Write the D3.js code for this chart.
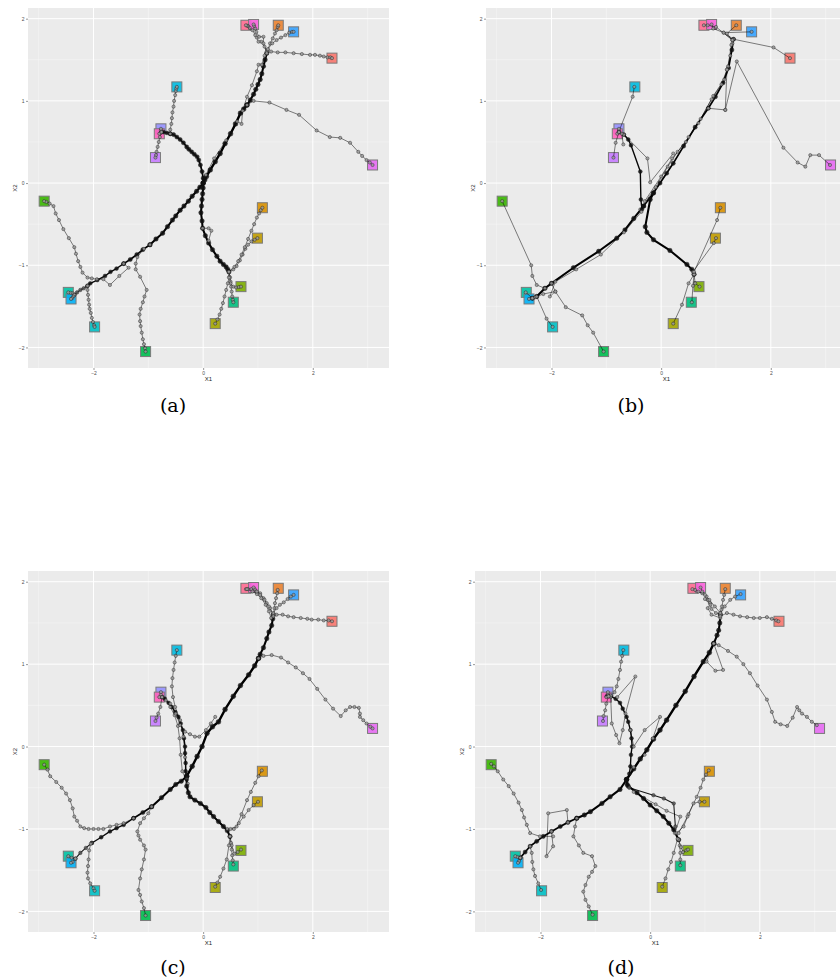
<!DOCTYPE html>
<html>
<head>
<meta charset="utf-8">
<script src="https://cdn.jsdelivr.net/npm/d3@7"></script>
<style>body{margin:0;background:#fff}</style>
</head>
<body>
<script>
// terminal cell types (squares), same positions in the 4 panels
var leafCat = ["t1","t2","t3","t4","t5","t6","t7","t8","t9","t10","t11","t12","t13","t14","t15","t16","t17","t20","t18","t19"];
var leafX = [2.35, 1.37, 1.08, 0.99, 0.22, 0.69, -2.90, -1.05, 0.55, -2.46, -1.98, -0.48, -2.41, 1.65, -0.77, -0.87, 3.09, 0.78, 0.92, -0.80];
var leafY = [1.52, 1.92, -0.30, -0.67, -1.71, -1.26, -0.22, -2.05, -1.45, -1.33, -1.75, 1.17, -1.41, 1.84, 0.66, 0.31, 0.22, 1.92, 1.93, 0.60];
var hue20 = ["#F8766D","#EA8331","#D89000","#C09B00","#A3A500","#7CAE00","#39B600","#00BB4E","#00BF7D","#00C1A3",
             "#00BFC4","#00BAE0","#00B0F6","#35A2FF","#9590FF","#C77CFF","#E76BF3","#FA62DB","#FF62BC","#FF6C91"];
var catOrder = ["t1","t2","t3","t4","t5","t6","t7","t8","t9","t10","t11","t12","t13","t14","t15","t16","t17","t18","t19","t20"];

var xTicks = [-2, 0, 2];
var yTicks = [-2, -1, 0, 1, 2];
var xMinor = [-3, -1, 1, 3];
var yMinor = [-1.5, -0.5, 0.5, 1.5];
var xDomain = [-3.195, 3.39];
var yDomain = [-2.25, 2.13];

// branches of the inferred trajectories; n = number of trajectories running along the branch
var branchesA = [
 {n:6,p:[[0,0],[0.03,0.04],[0.06,0.08],[0.13,0.16],[0.22,0.26],[0.31,0.36],[0.4,0.48],[0.5,0.6],[0.59,0.72],[0.68,0.85],[0.74,0.9],[0.8,0.95]]},
 {n:5,p:[[0.8,0.95],[0.86,1.01],[0.92,1.08],[0.96,1.14],[1.0,1.2],[1.04,1.26],[1.07,1.33],[1.1,1.42],[1.13,1.5],[1.16,1.58]]},
 {n:1,p:[[0.05,0.1],[0.2,0.3],[0.42,0.52],[0.62,0.75],[0.7,0.72],[0.72,0.88],[0.8,1.05],[0.89,1.19],[0.98,1.36],[1.01,1.44],[1.07,1.44],[1.12,1.55]]},
 {n:1,p:[[1.16,1.58],[1.12,1.66],[1.06,1.72],[1.01,1.72],[0.98,1.77],[0.95,1.8],[0.9,1.86],[0.85,1.89],[0.82,1.91],[0.8,1.915],[0.78,1.92]]},
 {n:1,p:[[1.16,1.6],[1.1,1.7],[1.1,1.78],[1.02,1.78],[0.97,1.84],[0.95,1.88],[0.93,1.91],[0.92,1.93]]},
 {n:1,p:[[1.18,1.62],[1.22,1.7],[1.27,1.76],[1.31,1.82],[1.34,1.86],[1.36,1.9],[1.37,1.92]]},
 {n:1,p:[[1.18,1.63],[1.26,1.7],[1.34,1.74],[1.42,1.77],[1.5,1.8],[1.57,1.83],[1.62,1.84],[1.65,1.84]]},
 {n:1,p:[[1.16,1.58],[1.24,1.6],[1.36,1.59],[1.5,1.59],[1.65,1.58],[1.8,1.57],[1.95,1.56],[2.04,1.56],[2.13,1.55],[2.2,1.54],[2.27,1.53],[2.32,1.53],[2.35,1.52]]},
 {n:1,p:[[0.8,0.95],[0.92,1.0],[1.21,0.98],[1.52,0.89],[1.75,0.83],[2.07,0.64],[2.31,0.56],[2.5,0.55],[2.68,0.49],[2.83,0.38],[2.9,0.33],[2.98,0.28],[3.04,0.25],[3.09,0.22]]},
 {n:5,p:[[0,0],[-0.06,-0.05],[-0.12,-0.1],[-0.2,-0.16],[-0.27,-0.22],[-0.35,-0.28],[-0.42,-0.33],[-0.5,-0.4],[-0.56,-0.45],[-0.65,-0.53],[-0.74,-0.61],[-0.86,-0.68],[-0.97,-0.75]]},
 {n:4,p:[[-0.97,-0.75],[-1.1,-0.81],[-1.21,-0.87],[-1.33,-0.93],[-1.45,-0.98]]},
 {n:3,p:[[-1.45,-0.98],[-1.58,-1.04],[-1.69,-1.08],[-1.79,-1.13],[-1.93,-1.18],[-2.06,-1.22],[-2.11,-1.25]]},
 {n:2,p:[[-2.11,-1.25],[-2.18,-1.28],[-2.24,-1.3],[-2.3,-1.33],[-2.35,-1.36]]},
 {n:1,p:[[-2.35,-1.36],[-2.38,-1.34],[-2.42,-1.335],[-2.46,-1.33]]},
 {n:1,p:[[-2.35,-1.36],[-2.37,-1.38],[-2.39,-1.4],[-2.41,-1.41]]},
 {n:1,p:[[-2.11,-1.25],[-2.11,-1.3],[-2.1,-1.36],[-2.09,-1.42],[-2.08,-1.48],[-2.07,-1.53],[-2.05,-1.58],[-2.03,-1.64],[-2.01,-1.69],[-1.99,-1.73],[-1.98,-1.75]]},
 {n:1,p:[[-1.45,-0.98],[-1.36,-1.03],[-1.53,-1.13],[-1.7,-1.24],[-1.82,-1.17],[-1.94,-1.17],[-2.03,-1.16],[-2.11,-1.15],[-2.2,-1.09],[-2.24,-1.02],[-2.28,-0.95],[-2.32,-0.86],[-2.35,-0.78],[-2.45,-0.67],[-2.55,-0.56],[-2.63,-0.45],[-2.69,-0.37],[-2.73,-0.28],[-2.8,-0.25],[-2.86,-0.23],[-2.9,-0.22]]},
 {n:1,p:[[-0.97,-0.75],[-1.08,-0.8],[-1.2,-0.9],[-1.23,-0.98],[-1.23,-1.05],[-1.15,-1.14],[-1.03,-1.3],[-1.07,-1.38],[-1.1,-1.45],[-1.14,-1.53],[-1.16,-1.6],[-1.15,-1.68],[-1.14,-1.74],[-1.12,-1.82],[-1.1,-1.9],[-1.08,-1.96],[-1.06,-2.01],[-1.05,-2.05]]},
 {n:4,p:[[0,0],[0.0,0.06],[-0.02,0.14],[-0.05,0.22],[-0.08,0.28],[-0.11,0.32],[-0.16,0.35],[-0.21,0.38],[-0.26,0.41],[-0.3,0.44],[-0.36,0.49],[-0.42,0.53],[-0.48,0.56],[-0.54,0.59],[-0.6,0.6]]},
 {n:3,p:[[-0.6,0.6],[-0.66,0.61],[-0.72,0.62],[-0.76,0.62]]},
 {n:1,p:[[-0.76,0.62],[-0.77,0.64],[-0.77,0.66]]},
 {n:1,p:[[-0.76,0.62],[-0.78,0.61],[-0.8,0.6]]},
 {n:1,p:[[-0.76,0.62],[-0.79,0.56],[-0.81,0.5],[-0.83,0.44],[-0.85,0.38],[-0.86,0.34],[-0.87,0.31]]},
 {n:1,p:[[-0.6,0.6],[-0.6,0.65],[-0.58,0.72],[-0.57,0.79],[-0.56,0.86],[-0.54,0.93],[-0.53,1.0],[-0.51,1.07],[-0.5,1.12],[-0.49,1.15],[-0.48,1.17]]},
 {n:5,p:[[0,0],[0.0,-0.06],[-0.01,-0.13],[-0.02,-0.2],[-0.03,-0.28],[-0.04,-0.36],[-0.02,-0.46],[-0.01,-0.55],[0.04,-0.64],[0.1,-0.73],[0.17,-0.81],[0.25,-0.89],[0.31,-0.95],[0.37,-0.99],[0.42,-1.02],[0.45,-1.05],[0.47,-1.08]]},
 {n:1,p:[[-0.01,-0.55],[0.1,-0.55],[0.15,-0.58],[0.1,-0.7]]},
 {n:1,p:[[0.47,-1.08],[0.48,-1.14],[0.5,-1.2],[0.51,-1.26],[0.52,-1.32],[0.53,-1.38],[0.54,-1.42],[0.55,-1.45]]},
 {n:1,p:[[0.47,-1.08],[0.49,-1.15],[0.5,-1.22],[0.55,-1.26],[0.6,-1.27],[0.65,-1.265],[0.69,-1.26]]},
 {n:1,p:[[0.47,-1.08],[0.47,-1.15],[0.45,-1.22],[0.42,-1.3],[0.39,-1.38],[0.36,-1.46],[0.33,-1.53],[0.3,-1.6],[0.26,-1.66],[0.22,-1.71]]},
 {n:1,p:[[0.47,-1.08],[0.55,-1.05],[0.61,-1.01],[0.67,-0.94],[0.72,-0.87],[0.77,-0.8],[0.82,-0.75],[0.88,-0.71],[0.94,-0.69],[0.99,-0.67]]},
 {n:1,p:[[0.47,-1.08],[0.57,-1.02],[0.64,-0.95],[0.7,-0.87],[0.76,-0.78],[0.82,-0.68],[0.88,-0.58],[0.93,-0.5],[0.98,-0.42],[1.02,-0.37],[1.05,-0.33],[1.08,-0.3]]}
];

var branchesB = [
 {n:4,p:[[-0.32,-0.28],[-0.14,-0.12],[-0.02,0.0],[0.1,0.12],[0.22,0.24],[0.41,0.45],[0.62,0.68],[0.86,0.91],[0.99,1.05],[1.13,1.22],[1.23,1.4],[1.29,1.62],[1.32,1.75]]},
 {n:1,p:[[-0.38,-0.32],[-0.1,-0.05],[0.12,0.2],[0.3,0.38],[0.5,0.56],[0.72,0.78],[0.92,1.02],[1.1,1.2],[1.2,1.38],[1.26,1.55],[1.3,1.7]]},
 {n:1,p:[[-0.3,-0.22],[0.0,0.08],[0.2,0.3],[0.45,0.5],[0.68,0.73],[0.95,1.06],[1.15,1.26],[1.22,1.42],[1.28,1.68]]},
 {n:1,p:[[1.32,1.75],[2.05,1.65],[2.35,1.52]]},
 {n:1,p:[[1.32,1.75],[1.14,1.83],[1.65,1.84]]},
 {n:1,p:[[1.3,1.74],[1.2,1.82],[1.37,1.92]]},
 {n:1,p:[[1.3,1.74],[1.14,1.83],[0.95,1.88],[0.92,1.93]]},
 {n:1,p:[[1.3,1.74],[1.0,1.9],[0.85,1.92],[0.78,1.92]]},
 {n:1,p:[[0.86,0.91],[1.17,0.89],[1.38,1.48],[2.23,0.43],[2.49,0.25],[2.63,0.2],[2.72,0.34],[2.88,0.34],[3.08,0.22]]},
 {n:1,p:[[1.17,0.89],[1.2,1.38]]},
 {n:3,p:[[-0.35,-0.32],[-0.37,-0.2],[-0.38,0.14],[-0.55,0.46],[-0.6,0.53],[-0.68,0.59],[-0.77,0.62]]},
 {n:1,p:[[0.22,0.36],[-0.2,0.01],[-0.25,0.3],[-0.68,0.59]]},
 {n:1,p:[[-0.72,0.6],[-0.69,0.47]]},
 {n:1,p:[[-0.77,0.63],[-0.52,1.05],[-0.49,1.17]]},
 {n:1,p:[[-0.77,0.62],[-0.77,0.66]]},
 {n:1,p:[[-0.77,0.62],[-0.8,0.6]]},
 {n:1,p:[[-0.77,0.62],[-0.83,0.49],[-0.87,0.31]]},
 {n:5,p:[[-0.14,-0.12],[-0.2,-0.2],[-0.29,-0.53],[-0.26,-0.6],[-0.14,-0.69],[0.16,-0.82],[0.47,-0.99],[0.56,-1.05],[0.6,-1.11]]},
 {n:1,p:[[0.6,-1.11],[0.62,-1.22],[0.7,-1.26]]},
 {n:1,p:[[0.6,-1.11],[0.58,-1.25],[0.56,-1.45]]},
 {n:1,p:[[0.6,-1.11],[0.5,-1.22],[0.38,-1.48],[0.22,-1.71]]},
 {n:1,p:[[0.58,-1.08],[0.96,-0.73],[1.0,-0.67]]},
 {n:1,p:[[0.6,-1.08],[1.02,-0.45],[1.08,-0.3]]},
 {n:5,p:[[-0.32,-0.28],[-0.5,-0.43],[-0.66,-0.57],[-0.81,-0.67],[-1.14,-0.83],[-1.6,-1.03],[-2.0,-1.22],[-2.12,-1.28],[-2.27,-1.38],[-2.35,-1.4]]},
 {n:1,p:[[-0.36,-0.35],[-0.68,-0.6],[-1.1,-0.87],[-1.55,-1.05],[-1.93,-1.2],[-2.03,-1.38],[-1.93,-1.32],[-2.15,-1.35],[-2.3,-1.39]]},
 {n:1,p:[[-2.35,-1.4],[-2.47,-1.33]]},
 {n:1,p:[[-2.35,-1.4],[-2.41,-1.41]]},
 {n:1,p:[[-2.27,-1.38],[-2.09,-1.65],[-1.98,-1.75]]},
 {n:1,p:[[-2.12,-1.28],[-2.27,-1.24],[-2.35,-1.13],[-2.37,-1.0],[-2.9,-0.22]]},
 {n:1,p:[[-2.0,-1.22],[-1.93,-1.32],[-1.74,-1.51],[-1.44,-1.61],[-1.34,-1.73],[-1.24,-1.82],[-1.05,-2.05]]}
];

var branchesC = [
 {n:6,p:[[-0.3,-0.36],[-0.2,-0.24],[-0.11,-0.12],[-0.02,0.0],[0.07,0.16],[0.17,0.24],[0.28,0.3],[0.4,0.45],[0.55,0.61],[0.68,0.74],[0.83,0.87],[0.94,0.98],[1.01,1.07]]},
 {n:5,p:[[1.01,1.07],[1.04,1.12],[1.1,1.2],[1.16,1.31],[1.2,1.39],[1.25,1.47],[1.27,1.55],[1.28,1.6]]},
 {n:1,p:[[1.28,1.6],[1.22,1.68],[1.16,1.74],[1.1,1.8],[1.04,1.86],[0.96,1.89],[0.88,1.91],[0.82,1.91],[0.78,1.91]]},
 {n:1,p:[[1.24,1.56],[1.2,1.64],[1.14,1.72],[1.06,1.8],[0.98,1.85],[0.9,1.88],[0.8,1.91]]},
 {n:1,p:[[1.28,1.6],[1.2,1.7],[1.12,1.78],[1.04,1.84],[0.98,1.88],[0.94,1.91],[0.92,1.93]]},
 {n:1,p:[[1.28,1.6],[1.3,1.68],[1.31,1.74],[1.33,1.8],[1.35,1.86],[1.36,1.9]]},
 {n:1,p:[[1.28,1.62],[1.34,1.68],[1.4,1.72],[1.47,1.75],[1.54,1.79],[1.6,1.82],[1.65,1.84]]},
 {n:1,p:[[1.28,1.58],[1.34,1.6],[1.45,1.6],[1.55,1.58],[1.65,1.57],[1.78,1.56],[1.9,1.55],[1.98,1.54],[2.1,1.54],[2.2,1.53],[2.29,1.53],[2.35,1.52]]},
 {n:1,p:[[1.01,1.07],[1.1,1.1],[1.25,1.11],[1.42,1.08],[1.55,1.02],[1.69,0.96],[1.82,0.89],[1.94,0.82],[2.08,0.7],[2.23,0.57],[2.37,0.46],[2.51,0.37],[2.6,0.44],[2.68,0.48],[2.76,0.48],[2.84,0.47],[2.86,0.4],[2.86,0.36],[2.92,0.32],[2.98,0.28],[3.05,0.24],[3.09,0.22]]},
 {n:5,p:[[-0.3,-0.36],[-0.4,-0.42],[-0.5,-0.46],[-0.6,-0.52],[-0.76,-0.62],[-0.94,-0.73]]},
 {n:4,p:[[-0.94,-0.73],[-1.1,-0.8],[-1.27,-0.87]]},
 {n:3,p:[[-1.27,-0.87],[-1.45,-0.95],[-1.58,-0.99],[-1.7,-1.03],[-1.86,-1.1],[-2.03,-1.17]]},
 {n:2,p:[[-2.03,-1.17],[-2.14,-1.23],[-2.24,-1.29],[-2.33,-1.36]]},
 {n:1,p:[[-2.33,-1.36],[-2.4,-1.35],[-2.46,-1.33]]},
 {n:1,p:[[-2.33,-1.36],[-2.38,-1.4],[-2.41,-1.41]]},
 {n:1,p:[[-2.05,-1.18],[-2.08,-1.26],[-2.09,-1.37],[-2.1,-1.45],[-2.11,-1.53],[-2.1,-1.6],[-2.06,-1.66],[-2.0,-1.72],[-1.98,-1.75]]},
 {n:1,p:[[-1.27,-0.87],[-1.45,-0.93],[-1.58,-0.95],[-1.7,-0.97],[-1.82,-1.0],[-1.91,-1.0],[-2.0,-1.0],[-2.09,-1.0],[-2.17,-0.99],[-2.24,-0.97],[-2.3,-0.9],[-2.35,-0.85],[-2.38,-0.75],[-2.43,-0.65],[-2.5,-0.57],[-2.58,-0.5],[-2.68,-0.43],[-2.79,-0.36],[-2.84,-0.28],[-2.9,-0.22]]},
 {n:1,p:[[-0.94,-0.73],[-1.0,-0.81],[-1.08,-0.87],[-1.15,-0.93],[-1.2,-1.03],[-1.18,-1.08],[-1.15,-1.13],[-1.08,-1.2],[-1.05,-1.25],[-1.08,-1.37],[-1.12,-1.49],[-1.15,-1.6],[-1.18,-1.74],[-1.15,-1.8],[-1.12,-1.88],[-1.08,-1.96],[-1.05,-2.05]]},
 {n:3,p:[[-0.3,-0.4],[-0.32,-0.3],[-0.32,-0.2],[-0.33,-0.08],[-0.33,0.0],[-0.35,0.1],[-0.37,0.2],[-0.41,0.28],[-0.45,0.36],[-0.51,0.42],[-0.57,0.48],[-0.63,0.53],[-0.7,0.58],[-0.75,0.6]]},
 {n:1,p:[[-0.28,-0.45],[-0.38,-0.3],[-0.41,-0.1],[-0.43,0.1],[-0.46,0.25],[-0.52,0.38],[-0.6,0.48],[-0.68,0.56],[-0.75,0.6]]},
 {n:1,p:[[-0.6,0.52],[-0.5,0.4],[-0.42,0.26],[-0.33,0.18],[-0.24,0.15],[-0.15,0.12],[-0.07,0.12],[0.05,0.2],[0.14,0.28],[0.22,0.36]]},
 {n:1,p:[[-0.3,-0.38],[-0.33,-0.13],[-0.36,0.12],[-0.42,0.32],[-0.51,0.48],[-0.55,0.6],[-0.57,0.73],[-0.56,0.83],[-0.54,0.93],[-0.52,1.02],[-0.5,1.1],[-0.48,1.17]]},
 {n:1,p:[[-0.75,0.6],[-0.77,0.63],[-0.77,0.66]]},
 {n:1,p:[[-0.75,0.6],[-0.8,0.6]]},
 {n:1,p:[[-0.75,0.6],[-0.78,0.48],[-0.82,0.4],[-0.85,0.35],[-0.87,0.31]]},
 {n:5,p:[[-0.3,-0.36],[-0.3,-0.48],[-0.27,-0.56],[-0.24,-0.61],[-0.15,-0.65],[-0.05,-0.69],[0.05,-0.74],[0.12,-0.8],[0.19,-0.85],[0.28,-0.91],[0.37,-0.97],[0.44,-1.02],[0.49,-1.09]]},
 {n:1,p:[[0.49,-1.09],[0.51,-1.17],[0.52,-1.25],[0.53,-1.32],[0.54,-1.38],[0.55,-1.43]]},
 {n:1,p:[[0.49,-1.09],[0.52,-1.2],[0.57,-1.3],[0.63,-1.28],[0.69,-1.25]]},
 {n:1,p:[[0.49,-1.09],[0.47,-1.2],[0.43,-1.37],[0.37,-1.48],[0.31,-1.58],[0.26,-1.65],[0.22,-1.7]]},
 {n:1,p:[[0.44,-1.0],[0.56,-1.0],[0.65,-0.93],[0.74,-0.85],[0.83,-0.77],[0.92,-0.71],[1.0,-0.67]]},
 {n:1,p:[[0.5,-1.0],[0.61,-0.97],[0.7,-0.82],[0.8,-0.65],[0.87,-0.55],[0.95,-0.44],[1.01,-0.36],[1.07,-0.29]]}
];

var branchesD = [
 {n:6,p:[[-0.43,-0.4],[-0.3,-0.27],[-0.18,-0.15],[-0.06,-0.04],[0.06,0.09],[0.18,0.2],[0.3,0.32],[0.47,0.5],[0.64,0.67],[0.8,0.85],[0.97,1.03],[1.08,1.14],[1.16,1.25]]},
 {n:5,p:[[1.16,1.25],[1.22,1.35],[1.25,1.41],[1.27,1.5],[1.28,1.6]]},
 {n:1,p:[[1.28,1.6],[1.2,1.62],[1.12,1.67],[1.09,1.74],[1.05,1.78],[1.03,1.82],[0.95,1.86],[0.88,1.88],[0.82,1.9],[0.77,1.91]]},
 {n:1,p:[[1.28,1.56],[1.12,1.6],[1.05,1.68],[1.1,1.72],[1.0,1.79]]},
 {n:1,p:[[1.28,1.62],[1.18,1.7],[1.08,1.78],[1.0,1.84],[0.95,1.88],[0.92,1.93]]},
 {n:1,p:[[1.28,1.6],[1.3,1.66],[1.31,1.7],[1.33,1.78],[1.35,1.84],[1.37,1.91]]},
 {n:1,p:[[1.28,1.62],[1.36,1.7],[1.46,1.78],[1.55,1.82],[1.65,1.85]]},
 {n:1,p:[[1.28,1.58],[1.4,1.62],[1.52,1.6],[1.64,1.58],[1.77,1.57],[1.89,1.56],[2.0,1.56],[2.13,1.57],[2.22,1.55],[2.3,1.53],[2.34,1.52]]},
 {n:1,p:[[1.16,1.25],[1.25,1.23],[1.42,1.16],[1.58,1.09],[1.7,1.0],[1.82,0.89],[1.96,0.74],[2.13,0.57],[2.22,0.42],[2.28,0.3],[2.38,0.27],[2.5,0.25],[2.6,0.35],[2.68,0.48],[2.72,0.44],[2.77,0.4],[2.86,0.36],[2.95,0.3],[3.04,0.26]]},
 {n:1,p:[[1.16,1.25],[1.03,1.03],[1.19,0.92],[1.33,0.93],[1.16,1.25]]},
 {n:3,p:[[-0.38,-0.33],[-0.36,-0.24],[-0.35,-0.1],[-0.33,0.0],[-0.34,0.1],[-0.36,0.2],[-0.4,0.3],[-0.43,0.36],[-0.5,0.46],[-0.55,0.53],[-0.63,0.58],[-0.72,0.61],[-0.79,0.61]]},
 {n:1,p:[[-0.72,0.6],[-0.7,0.28],[-0.62,0.14],[-0.56,0.04],[-0.5,0.2],[-0.45,0.4],[-0.27,0.85],[-0.6,0.6]]},
 {n:1,p:[[-0.36,0.2],[-0.3,0.0],[-0.1,0.2],[0.18,0.36],[0.05,0.1],[-0.1,-0.1],[-0.3,-0.25]]},
 {n:1,p:[[-0.72,0.62],[-0.65,0.66],[-0.61,0.73],[-0.58,0.82],[-0.55,0.93],[-0.53,1.03],[-0.51,1.1],[-0.49,1.17]]},
 {n:1,p:[[-0.76,0.61],[-0.77,0.64],[-0.77,0.66]]},
 {n:1,p:[[-0.76,0.61],[-0.8,0.6]]},
 {n:1,p:[[-0.76,0.61],[-0.8,0.52],[-0.82,0.44],[-0.85,0.37],[-0.86,0.31]]},
 {n:5,p:[[-0.43,-0.4],[-0.55,-0.52],[-0.73,-0.61],[-0.88,-0.69],[-1.09,-0.79],[-1.2,-0.83],[-1.34,-0.87]]},
 {n:4,p:[[-1.34,-0.87],[-1.5,-0.92],[-1.64,-0.97],[-1.8,-1.03],[-1.95,-1.09],[-2.07,-1.15],[-2.19,-1.21],[-2.28,-1.28],[-2.37,-1.35]]},
 {n:1,p:[[-2.37,-1.35],[-2.42,-1.34],[-2.46,-1.33]]},
 {n:1,p:[[-2.37,-1.35],[-2.39,-1.39],[-2.41,-1.41]]},
 {n:1,p:[[-1.77,-1.09],[-2.01,-1.09],[-2.19,-1.05],[-2.25,-0.95],[-2.3,-0.86],[-2.34,-0.77],[-2.4,-0.68],[-2.49,-0.57],[-2.58,-0.48],[-2.68,-0.4],[-2.78,-0.3],[-2.85,-0.24],[-2.9,-0.21]]},
 {n:1,p:[[-1.5,-0.92],[-1.52,-0.77],[-1.86,-0.81],[-1.89,-1.33],[-1.77,-1.21],[-1.8,-1.03]]},
 {n:1,p:[[-2.19,-1.21],[-2.16,-1.29],[-2.15,-1.4],[-2.13,-1.49],[-2.1,-1.57],[-2.04,-1.66],[-1.99,-1.74]]},
 {n:1,p:[[-1.34,-0.87],[-1.37,-0.97],[-1.4,-1.09],[-1.3,-1.2],[-1.22,-1.29],[-1.06,-1.33],[-1.0,-1.45],[-1.06,-1.52],[-1.12,-1.58],[-1.18,-1.68],[-1.22,-1.76],[-1.18,-1.86],[-1.12,-1.94],[-1.05,-2.04]]},
 {n:5,p:[[-0.43,-0.4],[-0.42,-0.46],[-0.4,-0.48],[-0.24,-0.56],[-0.12,-0.63],[0.0,-0.71],[0.12,-0.78],[0.24,-0.85],[0.34,-0.93],[0.43,-1.01],[0.52,-1.13]]},
 {n:2,p:[[-0.38,-0.5],[0.06,-0.59],[0.25,-0.63],[0.43,-0.69],[0.46,-0.97]]},
 {n:1,p:[[-0.3,-0.55],[0.1,-0.7],[0.3,-0.78],[0.55,-0.85],[0.45,-1.05]]},
 {n:1,p:[[0.52,-1.13],[0.54,-1.2],[0.55,-1.29],[0.55,-1.37],[0.55,-1.44]]},
 {n:1,p:[[0.52,-1.13],[0.56,-1.22],[0.6,-1.28],[0.66,-1.26],[0.69,-1.25]]},
 {n:1,p:[[0.5,-1.12],[0.43,-1.29],[0.38,-1.4],[0.33,-1.49],[0.28,-1.6],[0.22,-1.7]]},
 {n:1,p:[[0.48,-1.05],[0.61,-0.97],[0.7,-0.82],[0.79,-0.69],[0.9,-0.67],[0.99,-0.67]]},
 {n:1,p:[[0.52,-1.05],[0.68,-0.85],[0.85,-0.61],[0.92,-0.5],[0.97,-0.4],[1.02,-0.34],[1.07,-0.29]]}
];

var svg = d3.select("body").append("svg").attr("width", 840).attr("height", 980);
var color = d3.scaleOrdinal().domain(catOrder).range(hue20);
var lineW = d3.scaleLinear().domain([1, 6]).range([0.7, 2.4]);
var ptR = d3.scaleLinear().domain([1, 6]).range([1.6, 2.4]);
var ptFill = d3.scaleLinear().domain([1, 3]).range(["#9c9c9c", "#111"]).clamp(true);

function drawPanel(box, branches, cap) {
  var x = d3.scaleLinear().domain(xDomain).range([box.x0, box.x1]);
  var y = d3.scaleLinear().domain(yDomain).range([box.y1, box.y0]);
  var g = svg.append("g");

  g.append("rect").attr("x", box.x0).attr("y", box.y0)
    .attr("width", box.x1 - box.x0).attr("height", box.y1 - box.y0).attr("fill", "#EBEBEB");

  g.selectAll(null).data(xMinor).join("line")
    .attr("x1", d => x(d)).attr("x2", d => x(d)).attr("y1", box.y0).attr("y2", box.y1)
    .attr("stroke", "#F8F8F8").attr("stroke-width", 0.5);
  g.selectAll(null).data(yMinor).join("line")
    .attr("y1", d => y(d)).attr("y2", d => y(d)).attr("x1", box.x0).attr("x2", box.x1)
    .attr("stroke", "#F8F8F8").attr("stroke-width", 0.5);
  g.selectAll(null).data(xTicks).join("line")
    .attr("x1", d => x(d)).attr("x2", d => x(d)).attr("y1", box.y0).attr("y2", box.y1)
    .attr("stroke", "#fff").attr("stroke-width", 1);
  g.selectAll(null).data(yTicks).join("line")
    .attr("y1", d => y(d)).attr("y2", d => y(d)).attr("x1", box.x0).attr("x2", box.x1)
    .attr("stroke", "#fff").attr("stroke-width", 1);

  var ax = g.append("g").attr("transform", "translate(0," + box.y1 + ")")
    .call(d3.axisBottom(x).tickValues(xTicks).tickSize(2).tickPadding(1.5).tickFormat(d3.format("d")));
  var ay = g.append("g").attr("transform", "translate(" + box.x0 + ",0)")
    .call(d3.axisLeft(y).tickValues(yTicks).tickSize(2).tickPadding(1.5).tickFormat(d3.format("d")));
  [ax, ay].forEach(function(a) {
    a.select(".domain").remove();
    a.selectAll("line").attr("stroke", "#333").attr("stroke-width", 0.5);
    a.selectAll("text").attr("font-size", 5).attr("fill", "#4d4d4d").attr("font-family", "Liberation Sans, Arial, sans-serif");
  });

  g.append("text").attr("x", (box.x0 + box.x1) / 2).attr("y", box.y1 + 13)
    .attr("text-anchor", "middle").attr("font-size", 6).attr("font-family", "Liberation Sans, Arial, sans-serif")
    .attr("fill", "#222").text("X1");
  g.append("text").attr("transform", "translate(" + (box.x0 - 11) + "," + ((box.y0 + box.y1) / 2) + ") rotate(-90)")
    .attr("text-anchor", "middle").attr("font-size", 6).attr("font-family", "Liberation Sans, Arial, sans-serif")
    .attr("fill", "#222").text("X2");

  // terminal squares
  g.selectAll(null).data(leafCat).join("rect")
    .attr("x", (d, i) => x(leafX[i]) - 5).attr("y", (d, i) => y(leafY[i]) - 5)
    .attr("width", 10).attr("height", 10)
    .attr("fill", d => color(d)).attr("fill-opacity", 0.9)
    .attr("stroke", "#7a7a7a").attr("stroke-width", 1);

  // trajectories
  var line = d3.line().x(d => x(d[0])).y(d => y(d[1]));
  g.selectAll(null).data(branches).join("path")
    .attr("d", d => line(d.p)).attr("fill", "none").attr("stroke", "#000")
    .attr("stroke-width", d => lineW(d.n)).attr("stroke-opacity", d => 1 - Math.pow(0.3, d.n))
    .attr("stroke-linejoin", "round");
  branches.forEach(function(b) {
    g.selectAll(null).data(b.p).join("circle")
      .attr("cx", d => x(d[0])).attr("cy", d => y(d[1])).attr("r", ptR(b.n))
      .attr("fill", ptFill(b.n)).attr("fill-opacity", 0.85)
      .attr("stroke", "#111").attr("stroke-opacity", 0.8).attr("stroke-width", 0.5);
  });

  svg.append("text").attr("x", cap.x).attr("y", cap.y).attr("text-anchor", "middle")
    .attr("font-family", "DejaVu Serif, Liberation Serif, serif").attr("font-size", 19)
    .attr("fill", "#000").text(cap.t);
}

drawPanel({x0: 28, x1: 389, y0: 8, y1: 368}, branchesA, {x: 173, y: 412, t: "(a)"});
drawPanel({x0: 486, x1: 847, y0: 8, y1: 368}, branchesB, {x: 631, y: 412, t: "(b)"});
drawPanel({x0: 28, x1: 389, y0: 571, y1: 932}, branchesC, {x: 173, y: 974, t: "(c)"});
drawPanel({x0: 475, x1: 836, y0: 571, y1: 932}, branchesD, {x: 621, y: 974, t: "(d)"});
</script>
</body>
</html>
